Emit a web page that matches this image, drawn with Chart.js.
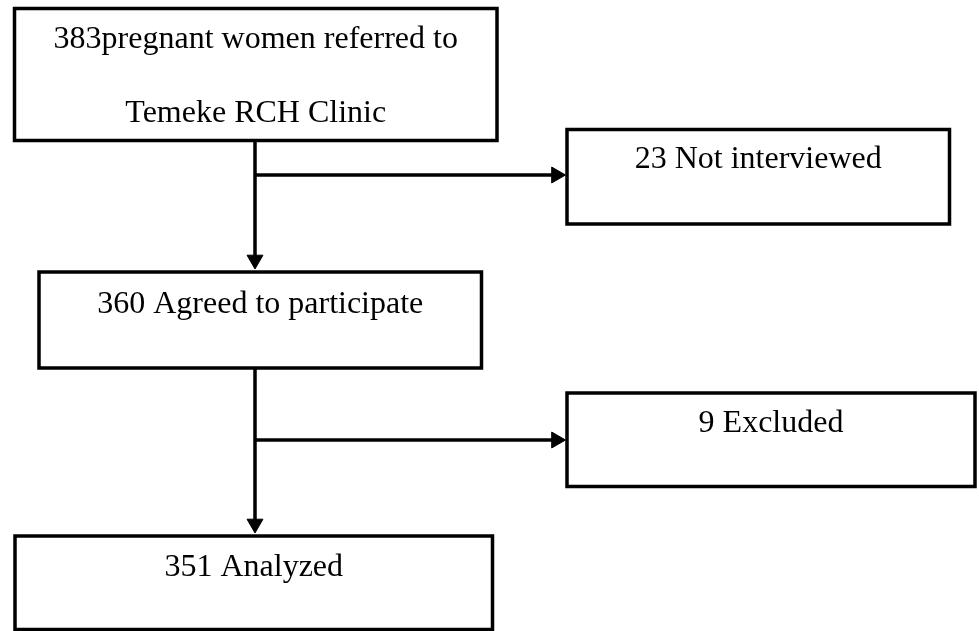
<!DOCTYPE html>
<html>
<head>
<meta charset="utf-8">
<script src="https://cdn.jsdelivr.net/npm/chart.js@4"></script>
<style>
  html, body { margin: 0; padding: 0; background: #fff; }
  #flow { display: block; }
</style>
</head>
<body>
<canvas id="flow" width="979" height="631"></canvas>
<script>
// the numbers in each step of the flow
const counts = [383, 23, 360, 9, 351];
// what each step is, '\n' splits a label on two lines
const stepLabels = [
  'pregnant women referred to\nTemeke RCH Clinic',
  ' Not interviewed',
  ' Agreed to participate',
  ' Excluded',
  ' Analyzed'
];
// which step goes into which (from, to, kind)
const links = [
  [0, 2, 'down'],
  [0, 1, 'side'],
  [2, 4, 'down'],
  [2, 3, 'side']
];

// layout of the boxes in page pixels: left, top, right, bottom, baseline of first text line
const boxes = [
  { x1: 14.5, y1: 8.5, x2: 497, y2: 140.5, ty: 48 },
  { x1: 567, y1: 129.5, x2: 949.5, y2: 224, ty: 168 },
  { x1: 39, y1: 272, x2: 481.5, y2: 368, ty: 313 },
  { x1: 567, y1: 393, x2: 975, y2: 486.5, ty: 432 },
  { x1: 15, y1: 536, x2: 492.5, y2: 629.5, ty: 576 }
];
const trunkX = 255;      // x of the main vertical line
const branchY = [175, 440];  // y of the side arrows
const lineGap = 74;
const headR = 9.2;
const headGap = 3;       // small gap between arrow tip and box edge

function boxData(b) {
  // go round once and a bit so the first corner gets a proper join
  return [
    { x: b.x1, y: b.y1 }, { x: b.x2, y: b.y1 }, { x: b.x2, y: b.y2 },
    { x: b.x1, y: b.y2 }, { x: b.x1, y: b.y1 }, { x: b.x2, y: b.y1 }
  ];
}

const datasets = [];
boxes.forEach(b => {
  datasets.push({
    data: boxData(b),
    showLine: true,
    borderColor: '#000',
    borderWidth: 3.5,
    borderJoinStyle: 'miter',
    pointRadius: 0,
    tension: 0
  });
});

let side = 0;
links.forEach(([from, to, kind]) => {
  const a = boxes[from], b = boxes[to];
  let pts, rot;
  if (kind === 'down') {
    pts = [{ x: trunkX, y: a.y2 }, { x: trunkX, y: b.y1 - headGap - headR }];
    rot = 180;
  } else {
    const y = branchY[side++];
    pts = [{ x: trunkX, y: y }, { x: b.x1 - 1.5 - headR, y: y }];
    rot = 90;
  }
  datasets.push({
    data: pts,
    showLine: true,
    borderColor: '#000',
    borderWidth: 3.5,
    pointRadius: [0, headR],
    pointStyle: 'triangle',
    rotation: rot,
    pointBackgroundColor: '#000',
    pointBorderColor: '#000',
    pointBorderWidth: 1,
    tension: 0
  });
});

// writes the step texts inside the boxes
const boxText = {
  id: 'boxText',
  afterDatasetsDraw(chart) {
    const ctx = chart.ctx;
    const xs = chart.scales.x, ys = chart.scales.y;
    ctx.save();
    ctx.fillStyle = '#000';
    ctx.font = '32px "Liberation Serif", "Times New Roman", serif';
    ctx.textAlign = 'center';
    ctx.textBaseline = 'alphabetic';
    boxes.forEach((b, i) => {
      const lines = (counts[i] + stepLabels[i]).split('\n');
      const cx = xs.getPixelForValue((b.x1 + b.x2) / 2);
      lines.forEach((ln, k) => {
        ctx.fillText(ln, cx, ys.getPixelForValue(b.ty + k * lineGap));
      });
    });
    ctx.restore();
  }
};

new Chart(document.getElementById('flow'), {
  type: 'scatter',
  data: { datasets: datasets },
  options: {
    responsive: false,
    animation: false,
    devicePixelRatio: 1,
    layout: { padding: 0, autoPadding: false },
    plugins: { legend: { display: false }, tooltip: { enabled: false } },
    scales: {
      x: { type: 'linear', min: 0, max: 979, display: false },
      y: { type: 'linear', min: 0, max: 631, reverse: true, display: false }
    }
  },
  plugins: [boxText]
});
</script>
</body>
</html>
